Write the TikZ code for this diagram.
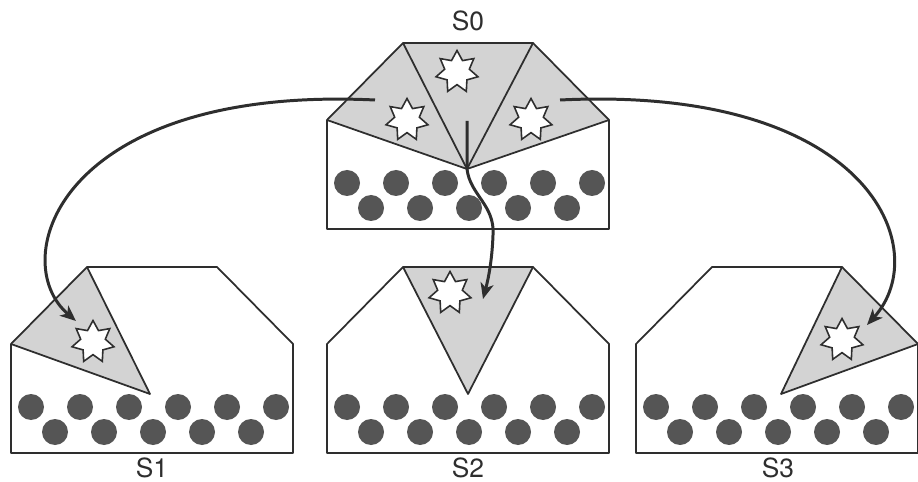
\documentclass[tikz,border=0pt]{standalone}
\usepackage{fontspec}
\setmainfont{TeX Gyre Heros}
\usepackage{tikz}
\usetikzlibrary{arrows.meta,shapes.geometric}
\definecolor{ink}{HTML}{2E2E2E}
\definecolor{shade}{HTML}{D3D3D3}
\definecolor{grain}{HTML}{555555}
\tikzset{
  outline/.style={draw=ink, line width=1pt, line join=round},
  wedge/.style={fill=shade},
  dot/.style={fill=grain},
  burst/.style={star, star points=7, star point ratio=1.7, draw=ink, fill=white, line width=0.9pt, minimum size=0.86cm, inner sep=0pt},
  hop/.style={draw=ink, line width=1.7pt, -{Stealth[length=9pt,width=7.5pt,inset=2.5pt]}},
  lab/.style={text=ink, font=\fontsize{15}{17}\selectfont},
}

\begin{document}
\begin{tikzpicture}[x=0.02cm,y=-0.02cm]
  \useasboundingbox (0,0) rectangle (918,482);

  % S0: three filled wedges
  \begin{scope}[shift={(327,43)}]
    \fill[wedge] (0,77) -- (76,0) -- (206,0) -- (282,77) -- (140,126) -- cycle;
    \foreach \i in {0,...,5} \fill[dot] ({20+49*\i},140) circle (13);
    \foreach \i in {0,...,4} \fill[dot] ({44+49*\i},165) circle (13);
    \draw[outline] (0,186) -- (0,77) -- (76,0) -- (206,0) -- (282,77) -- (282,186) -- cycle;
    \draw[outline] (0,77) -- (140,126) -- (282,77);
    \draw[outline] (76,0) -- (140,126) -- (206,0);
    \node[burst] (st0a) at (80,77) {};
    \node[burst] (st0b) at (130,29) {};
    \node[burst] (st0c) at (204,77) {};
    \coordinate (from1) at (48,57);
    \coordinate (from2) at (140,78);
    \coordinate (bend2) at (140,126);
    \coordinate (from3) at (233,57);
  \end{scope}
  \node[lab] (l0) at (468,21) {S0};

  % S1: left wedge
  \begin{scope}[shift={(11,267)}]
    \fill[wedge] (0,77) -- (76,0) -- (139,127) -- cycle;
    \foreach \i in {0,...,5} \fill[dot] ({20+49*\i},140) circle (13);
    \foreach \i in {0,...,4} \fill[dot] ({44+49*\i},165) circle (13);
    \draw[outline] (0,186) -- (0,77) -- (76,0) -- (206,0) -- (282,77) -- (282,186) -- cycle;
    \draw[outline] (0,77) -- (139,127) -- (76,0);
    \node[burst] (st1) at (82,75) {};
    \coordinate (to1) at (65,54);
  \end{scope}
  \node[lab] (l1) at (152,468) {S1};

  % S2: middle wedge
  \begin{scope}[shift={(327,267)}]
    \fill[wedge] (76,0) -- (206,0) -- (141,127) -- cycle;
    \foreach \i in {0,...,5} \fill[dot] ({20+49*\i},140) circle (13);
    \foreach \i in {0,...,4} \fill[dot] ({44+49*\i},165) circle (13);
    \draw[outline] (0,186) -- (0,77) -- (76,0) -- (206,0) -- (282,77) -- (282,186) -- cycle;
    \draw[outline] (76,0) -- (141,127) -- (206,0);
    \node[burst] (st2) at (123,26) {};
    \coordinate (to2) at (156,32);
  \end{scope}
  \node[lab] (l2) at (468,468) {S2};

  % S3: right wedge
  \begin{scope}[shift={(636,267)}]
    \fill[wedge] (206,0) -- (282,77) -- (145,127) -- cycle;
    \foreach \i in {0,...,5} \fill[dot] ({20+49*\i},140) circle (13);
    \foreach \i in {0,...,4} \fill[dot] ({44+49*\i},165) circle (13);
    \draw[outline] (0,186) -- (0,77) -- (76,0) -- (206,0) -- (282,77) -- (282,186) -- cycle;
    \draw[outline] (206,0) -- (145,127) -- (282,77);
    \node[burst] (st3) at (206,73) {};
    \coordinate (to3) at (231,58);
  \end{scope}
  \node[lab] (l3) at (778,468) {S3};

  % moves
  \draw[hop] (from1) .. controls (60,85) and (5,260) .. (to1);
  \draw[hop] (from2) -- (bend2) .. controls (470,195) and (495,205) .. (493,235)
    .. controls (492,262) and (488,280) .. (to2);
  \draw[hop] (from3) .. controls (870,85) and (935,250) .. (to3);
\end{tikzpicture}
\end{document}
